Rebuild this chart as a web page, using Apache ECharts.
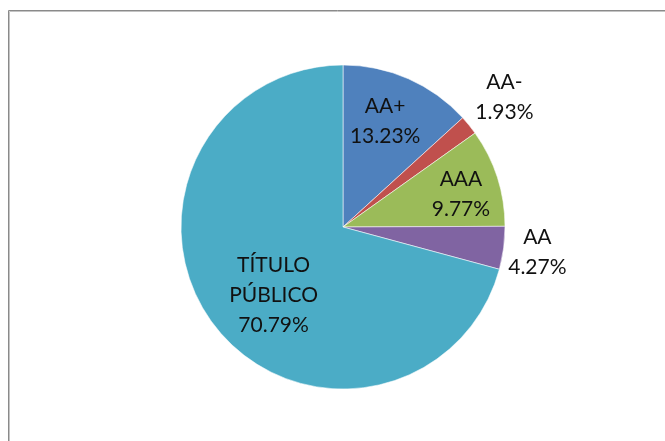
<!DOCTYPE html>
<html>
<head>
<meta charset="utf-8">
<script src="https://cdn.jsdelivr.net/npm/echarts@6/dist/echarts.min.js"></script>
<style>
html,body{margin:0;padding:0;background:#fff;}
#chart{width:665px;height:441px;}
</style>
</head>
<body>
<div id="chart"></div>
<script>
// Data
var categories = ['AA+', 'AA-', 'AAA', 'AA', 'TÍTULO PÚBLICO'];
var values = [13.23, 1.93, 9.77, 4.27, 70.79];
// Styling
var colors = ['#4F81BD', '#C0504D', '#9BBB59', '#8064A2', '#4BACC6'];
var labelRadius = [0.70, 1.28, 0.755, 1.21, 0.60];
var labelAngleShift = [-2, 0, 2.5, 0, -7];

var CX = 343, CY = 227, R = 162;
var total = values.reduce(function (a, b) { return a + b; }, 0);
var midAngles = [];
(function () {
  var acc = 0;
  for (var i = 0; i < values.length; i++) {
    midAngles.push((acc + values[i] / 2) / total * 360);
    acc += values[i];
  }
})();

var chart = echarts.init(document.getElementById('chart'), null, {renderer: 'canvas'});
chart.setOption({
  backgroundColor: '#ffffff',
  animation: false,
  graphic: [
    {type: 'rect', shape: {x: 8.5, y: 10.5, width: 700, height: 500}, style: {fill: 'none', stroke: '#8a8a8a', lineWidth: 1}},
    {type: 'rect', shape: {x: 9.5, y: 11.5, width: 700, height: 500}, style: {fill: 'none', stroke: '#c4c4c4', lineWidth: 1}}
  ],
  series: [{
    type: 'pie',
    center: [CX, CY],
    radius: [0, R],
    startAngle: 90,
    clockwise: true,
    avoidLabelOverlap: false,
    itemStyle: {borderColor: 'rgba(255,255,255,0.55)', borderWidth: 1},
    label: {
      show: true,
      position: 'inside',
      color: '#111',
      fontFamily: 'Lato',
      fontSize: 21,
      lineHeight: 30,
      align: 'center',
      formatter: function (p) {
        return p.name.replace(' ', '\n') + '\n' + p.value.toFixed(2) + '%';
      }
    },
    labelLine: {show: false},
    labelLayout: function (params) {
      var i = params.dataIndex;
      var a = (midAngles[i] + labelAngleShift[i]) * Math.PI / 180;
      var k = labelRadius[i];
      return {
        x: CX + k * R * Math.sin(a),
        y: CY - k * R * Math.cos(a),
        align: 'center',
        verticalAlign: 'middle'
      };
    },
    data: categories.map(function (c, i) {
      return {name: c, value: values[i], itemStyle: {color: colors[i]}};
    })
  }]
});
</script>
</body>
</html>
